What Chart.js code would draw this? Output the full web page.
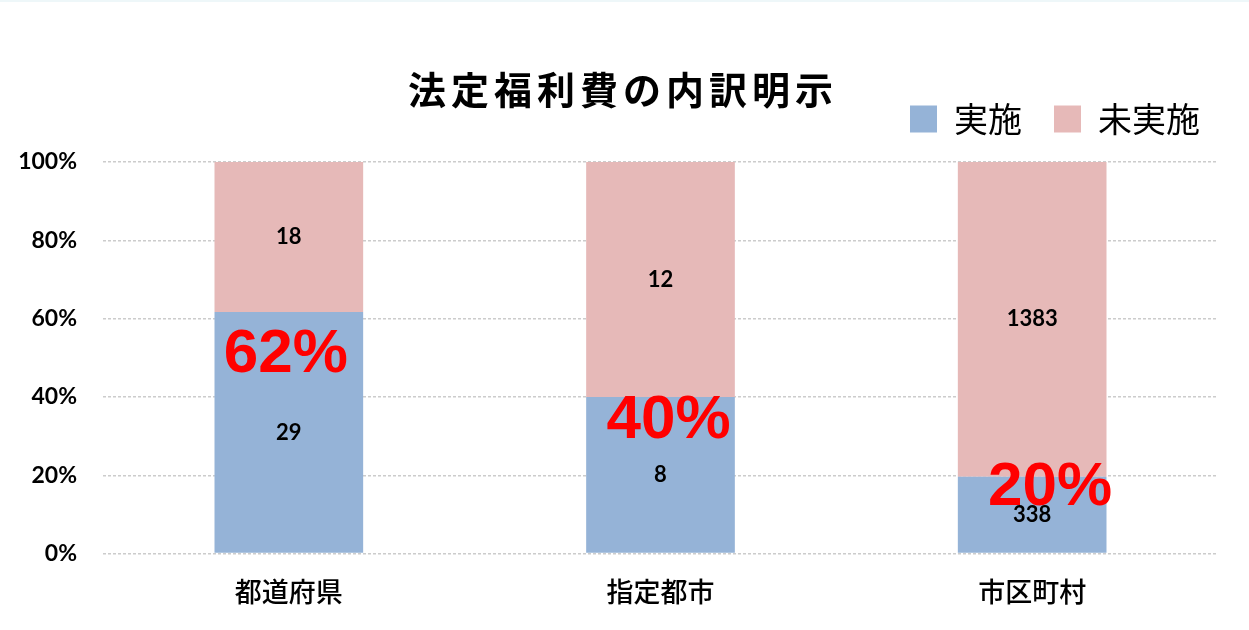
<!DOCTYPE html>
<html lang="ja">
<head>
  <meta charset="UTF-8">
  <title>法定福利費の内訳明示</title>
  <script src="https://cdn.jsdelivr.net/npm/chart.js"></script>
  <style>
    body {
      margin: 0;
      background: #fff;
      border-top: 2px solid #eef7f9;
    }
    #wrap {
      width: 1249px;
      height: 628px;
    }
  </style>
</head>
<body>
  <div id="wrap"><canvas id="chart"></canvas></div>

  <script>
    // データ
    const categories = ['都道府県', '指定都市', '市区町村'];
    const doneCounts = [29, 8, 338];        // 実施
    const notDoneCounts = [18, 12, 1383];   // 未実施
    const rateLabels = ['62%', '40%', '20%'];
    const yTicks = [0, 20, 40, 60, 80, 100];

    const totals = doneCounts.map((v, i) => v + notDoneCounts[i]);
    const donePct = doneCounts.map((v, i) => v / totals[i] * 100);
    const notDonePct = notDoneCounts.map((v, i) => v / totals[i] * 100);

    const JP = '"Noto Sans CJK JP", "Noto Sans", sans-serif';

    // タイトル（文字間隔を広げたいので自前で描く）
    const titlePlugin = {
      id: 'titleText',
      afterDraw(chart) {
        const ctx = chart.ctx;
        ctx.save();
        ctx.font = 'bold 38px ' + JP;
        ctx.fillStyle = '#000';
        ctx.textAlign = 'center';
        ctx.textBaseline = 'middle';
        if ('letterSpacing' in ctx) ctx.letterSpacing = '5px';
        ctx.fillText('法定福利費の内訳明示', 623, 88);
        ctx.restore();
      }
    };

    // 凡例の下に余白を足し、少し右へ寄せる
    const legendSpace = {
      id: 'legendSpace',
      beforeInit(chart) {
        const fit = chart.legend.fit;
        chart.legend.fit = function () {
          fit.bind(this)();
          this.height += 16;
        };
      },
      afterLayout(chart) {
        chart.legend.left += 14;
        chart.legend.right += 14;
      }
    };

    // 件数ラベルと赤い割合ラベル
    const valuePlugin = {
      id: 'valueLabels',
      afterDatasetsDraw(chart) {
        const ctx = chart.ctx;
        ctx.save();
        ctx.textAlign = 'center';
        ctx.textBaseline = 'middle';
        ctx.font = 'bold 22px Lato, sans-serif';
        ctx.fillStyle = '#000';
        const counts = [doneCounts, notDoneCounts];
        chart.data.datasets.forEach((ds, di) => {
          chart.getDatasetMeta(di).data.forEach((bar, i) => {
            ctx.fillText(counts[di][i], bar.x, (bar.y + bar.base) / 2);
          });
        });

        // 赤字（手で置いた注記なので少しずつずれている）
        const shift = [[-3, 43], [8, 24], [18, 11]];
        ctx.font = 'bold 62px "Liberation Sans", Arial, sans-serif';
        ctx.fillStyle = '#ff0000';
        chart.getDatasetMeta(0).data.forEach((bar, i) => {
          ctx.fillText(rateLabels[i], bar.x + shift[i][0], bar.y + shift[i][1]);
        });
        ctx.restore();
      }
    };

    new Chart(document.getElementById('chart'), {
      type: 'bar',
      data: {
        labels: categories,
        datasets: [
          {
            label: '実施',
            data: donePct,
            backgroundColor: '#95b3d7',
            barPercentage: 0.8,
            categoryPercentage: 0.5
          },
          {
            label: '未実施',
            data: notDonePct,
            backgroundColor: '#e6b9b8',
            barPercentage: 0.8,
            categoryPercentage: 0.5
          }
        ]
      },
      options: {
        responsive: true,
        maintainAspectRatio: false,
        animation: false,
        layout: {
          padding: { top: 68, right: 31, bottom: 8, left: 0 }
        },
        plugins: {
          legend: {
            position: 'top',
            align: 'end',
            labels: {
              boxWidth: 27,
              boxHeight: 27,
              padding: 32,
              color: '#000',
              font: { family: JP, size: 34 }
            }
          },
          tooltip: { enabled: false }
        },
        scales: {
          x: {
            stacked: true,
            grid: { display: false },
            border: { display: false },
            ticks: {
              color: '#000',
              padding: 14,
              font: { family: JP, size: 27, weight: '500' }
            }
          },
          y: {
            stacked: true,
            min: 0,
            max: 100,
            afterFit(scale) { scale.width = 103; },
            afterBuildTicks(scale) {
              scale.ticks = yTicks.map(v => ({ value: v }));
            },
            grid: {
              color: '#cccccc',
              lineWidth: 1.5,
              drawTicks: false
            },
            border: { display: false, dash: [3, 2] },
            ticks: {
              color: '#000',
              padding: 26,
              font: { family: 'Lato, sans-serif', size: 23, weight: 'bold' },
              callback: v => v + '%'
            }
          }
        }
      },
      plugins: [titlePlugin, legendSpace, valuePlugin]
    });
  </script>
</body>
</html>
